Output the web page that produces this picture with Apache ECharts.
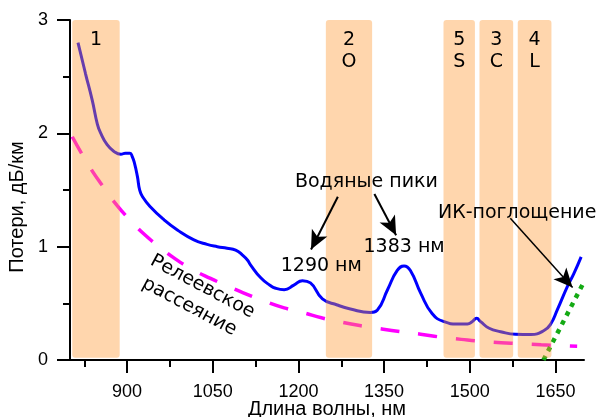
<!DOCTYPE html>
<html>
<head>
<meta charset="utf-8">
<script src="https://cdn.jsdelivr.net/npm/echarts@6/dist/echarts.min.js"></script>
<style>
  html, body { margin: 0; padding: 0; background: #fff; }
  #chart { width: 602px; height: 417px; }
</style>
</head>
<body>
<div id="chart"></div>
<script>
// Attenuation of silica optical fibre vs. wavelength (dB/km)

// total loss: [wavelength nm, loss dB/km]
const lossCurve = [
  [814, 2.80], [827, 2.53], [839, 2.29], [848, 2.08], [854, 2.00], [865, 1.90],
  [877, 1.84], [889, 1.815], [897, 1.825], [905, 1.825], [909, 1.795], [913, 1.735],
  [918, 1.62], [922, 1.50], [927, 1.44], [941, 1.35], [965, 1.235], [988, 1.147],
  [1017, 1.06], [1040, 1.02], [1058, 1.00], [1075, 0.986], [1090, 0.97], [1102, 0.926],
  [1111, 0.88], [1116, 0.84], [1134, 0.725], [1150, 0.66], [1160, 0.633], [1175, 0.62],
  [1192, 0.66], [1207, 0.70], [1221, 0.68], [1242, 0.54], [1268, 0.485], [1291, 0.45],
  [1326, 0.42], [1338, 0.44], [1356, 0.62], [1373, 0.79], [1385, 0.83], [1396, 0.79],
  [1414, 0.59], [1434, 0.41], [1455, 0.338], [1478, 0.318], [1496, 0.318], [1504, 0.338],
  [1512, 0.368], [1519, 0.338], [1534, 0.28], [1554, 0.25], [1580, 0.227], [1607, 0.225],
  [1630, 0.26], [1642, 0.32], [1653, 0.44], [1671, 0.65], [1682, 0.76], [1695, 0.91]
];

// Rayleigh scattering contribution
const rayleighCurve = [
  [804, 1.97], [830, 1.74], [855, 1.55], [883, 1.36], [910, 1.21], [930, 1.11],
  [956, 1.00], [985, 0.89], [1014, 0.80], [1046, 0.72], [1075, 0.655], [1110, 0.58],
  [1140, 0.52], [1175, 0.46], [1207, 0.42], [1242, 0.37], [1274, 0.335], [1312, 0.30],
  [1344, 0.275], [1382, 0.248], [1414, 0.228], [1452, 0.20], [1485, 0.182], [1520, 0.165],
  [1555, 0.153], [1590, 0.143], [1625, 0.134], [1659, 0.127], [1688, 0.121]
];

// infrared absorption tail
const irAbsorption = [[1629, 0.0], [1700, 0.69]];

// transmission windows / bands
const bandNames = ['1', '2\nO', '5\nS', '3\nC', '4\nL'];
const bandStart = [804, 1248, 1454, 1517, 1584];
const bandEnd = [887, 1329, 1509, 1576, 1643];
const bandTop = 3;
const bandBottom = 0.02;

// axis ticks
const xMajorTicks = [900, 1050, 1200, 1350, 1500, 1650];
const xMinorTicks = [825, 975, 1125, 1275, 1425, 1575];
const yMinorTicks = [0.5, 1.5, 2.5];
const xRange = [800, 1700];
const yRange = [0, 3];

// annotation texts, anchored in data coordinates
const noteText = ['Водяные пики', '1290 нм', '1383 нм', 'ИК-поглощение', 'Релеевское', 'рассеяние'];
const noteAnchor = [[1319, 1.573], [1240, 0.829], [1385, 0.994], [1583, 1.294], [1032, 0.647], [1009, 0.47]];
const noteAngle = [0, 0, 0, 0, -28, -28];

// pointer arrows: [from, to]
const arrowLines = [
  [[1269, 1.441], [1222, 0.975]],
  [[1333, 1.465], [1371, 1.10]],
  [[1571, 1.25], [1680, 0.64]]
];
const arrowWidths = [2, 2, 1.5];

const AXIS_FONT = 'Liberation Sans, Arial, sans-serif';
const NOTE_FONT = '19px "DejaVu Sans", sans-serif';

const chart = echarts.init(document.getElementById('chart'), null, { renderer: 'canvas' });

const axisLine = { show: true, lineStyle: { color: '#000', width: 2 } };
const tickStyle = { color: '#000', width: 2 };

chart.setOption({
  animation: false,
  backgroundColor: '#fff',
  grid: { left: 70, right: 18, top: 20, bottom: 57, containLabel: false, outerBoundsMode: 'none' },
  xAxis: [
    {
      type: 'value', min: xRange[0], max: xRange[1],
      axisLine: axisLine,
      axisTick: { show: true, length: 13, customValues: xMajorTicks, lineStyle: tickStyle },
      axisLabel: {
        customValues: xMajorTicks, margin: 23, color: '#000', fontSize: 18, fontFamily: AXIS_FONT,
        formatter: v => String(v)
      },
      splitLine: { show: false },
      name: 'Длина волны, нм', nameLocation: 'middle', nameGap: 39, nameMoveOverlap: false,
      nameTextStyle: { color: '#000', fontSize: 20, fontFamily: AXIS_FONT }
    },
    {
      type: 'value', min: xRange[0], max: xRange[1], position: 'bottom', offset: 0,
      axisLine: { show: false },
      axisTick: { show: true, length: 7, customValues: xMinorTicks, lineStyle: tickStyle },
      axisLabel: { show: false },
      splitLine: { show: false }
    }
  ],
  yAxis: [
    {
      type: 'value', min: yRange[0], max: yRange[1], interval: 1,
      axisLine: axisLine,
      axisTick: { show: true, length: 13, lineStyle: tickStyle },
      axisLabel: { margin: 22, color: '#000', fontSize: 18, fontFamily: AXIS_FONT },
      splitLine: { show: false }
    },
    {
      type: 'value', min: yRange[0], max: yRange[1], position: 'left', offset: 0,
      axisLine: { show: false },
      axisTick: { show: true, length: 7, customValues: yMinorTicks, lineStyle: tickStyle },
      axisLabel: { show: false },
      splitLine: { show: false }
    }
  ],
  graphic: [{
    type: 'text', x: 17, y: 207, rotation: Math.PI / 2,
    style: {
      text: 'Потери, дБ/км', align: 'center', verticalAlign: 'middle',
      font: '20px ' + AXIS_FONT, fill: '#000'
    }
  }],
  series: [
    {
      type: 'line', data: rayleighCurve, smooth: 0.5,
      symbol: 'none', z: 2, silent: true,
      lineStyle: { color: '#ff00ff', width: 3.5, type: [19, 19], cap: 'butt' }
    },
    {
      type: 'line', data: lossCurve, smooth: 0.5,
      symbol: 'none', z: 2, silent: true,
      lineStyle: { color: '#0000ff', width: 3 }
    },
    {
      type: 'line', data: irAbsorption, symbol: 'none', z: 2, silent: true,
      lineStyle: { color: '#14aa14', width: 4.5, type: [4.5, 5.5], cap: 'butt' },
      markLine: {
        silent: true, symbol: ['none', 'arrow'], symbolSize: [13, 19], precision: 3,
        label: { show: false },
        itemStyle: { color: '#000' },
        lineStyle: { color: '#000', type: 'solid' },
        data: arrowLines.map((a, i) => [
          { coord: a[0], lineStyle: { width: arrowWidths[i], color: '#000', type: 'solid' } },
          { coord: a[1] }
        ])
      }
    },
    {
      // translucent wavelength bands drawn over the curves
      type: 'custom', z: 3, silent: true, clip: false,
      data: bandStart.map((s, i) => [s, bandEnd[i]]),
      renderItem: function (params, api) {
        const p0 = api.coord([api.value(0), bandTop]);
        const p1 = api.coord([api.value(1), bandBottom]);
        return {
          type: 'group',
          children: [
            {
              type: 'rect',
              shape: { x: p0[0], y: p0[1], width: p1[0] - p0[0], height: p1[1] - p0[1], r: 3 },
              style: { fill: 'rgba(255,153,51,0.4)' }
            },
            {
              type: 'text',
              style: {
                text: bandNames[params.dataIndex], x: (p0[0] + p1[0]) / 2, y: p0[1] + 9,
                align: 'center', verticalAlign: 'top', font: NOTE_FONT, lineHeight: 22, fill: '#000'
              }
            }
          ]
        };
      }
    },
    {
      // annotation texts
      type: 'custom', z: 10, silent: true, clip: false,
      data: noteAnchor,
      renderItem: function (params, api) {
        const i = params.dataIndex;
        const p = api.coord([api.value(0), api.value(1)]);
        return {
          type: 'text', x: p[0], y: p[1], rotation: noteAngle[i] * Math.PI / 180,
          style: {
            text: noteText[i], x: 0, y: 0, align: 'center', verticalAlign: 'middle',
            font: NOTE_FONT, fill: '#000'
          }
        };
      }
    }
  ]
});
</script>
</body>
</html>
